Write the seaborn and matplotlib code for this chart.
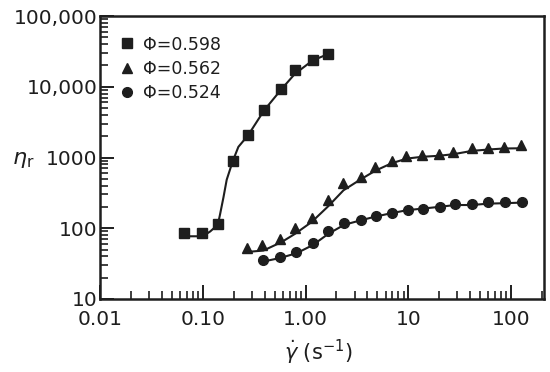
import numpy as np
import pandas as pd
import matplotlib
matplotlib.use("Agg")
import matplotlib.pyplot as plt
import seaborn as sns
from matplotlib.ticker import FixedLocator, LogLocator, NullFormatter

# ---- data ----
labels = ["\u03a6=0.598", "\u03a6=0.562", "\u03a6=0.524"]

# measured points
x598 = [0.066, 0.098, 0.14, 0.196, 0.276, 0.395, 0.58, 0.787, 1.17, 1.66]
y598 = [86, 86, 114, 893, 2060, 4630, 9160, 17400, 23500, 29000]

x562 = [0.272, 0.38, 0.566, 0.79, 1.15, 1.66, 2.31, 3.48, 4.69, 6.97,
        9.5, 13.7, 20, 27.5, 41.2, 59, 84.5, 126]
y562 = [52, 58, 71, 100, 141, 253, 434, 538, 726, 887,
        1057, 1100, 1112, 1202, 1383, 1370, 1415, 1490]

x524 = [0.389, 0.566, 0.805, 1.18, 1.65, 2.38, 3.48, 4.84, 7.0, 9.9,
        14.0, 20.3, 28.2, 41.9, 59, 86.5, 128.5]
y524 = [35.3, 38.8, 46.9, 62.3, 90, 120, 132, 147, 166, 179,
        188, 197, 220, 218, 234, 236, 236]

# fitted curves
fx598 = [0.061, 0.1, 0.118, 0.14, 0.147, 0.159, 0.171, 0.196, 0.222, 0.276,
         0.395, 0.58, 0.787, 1.17, 1.66]
fy598 = [77, 77, 90, 112, 155, 274, 486, 893, 1413, 2060,
         4630, 9160, 15200, 23500, 29000]

fx562 = [0.258, 0.389, 0.587, 0.792, 1.15, 1.67, 2.34, 3.40, 4.77, 6.92,
         9.7, 13.6, 19.7, 27.5, 41.6, 60.4, 84.5, 132]
fy562 = [46, 48.4, 64, 83.6, 123, 206, 344, 486, 650, 832,
         966, 1023, 1057, 1113, 1241, 1297, 1340, 1352]

fx524 = [0.375, 0.566, 0.822, 1.18, 1.67, 2.38, 3.48, 4.77, 6.67, 9.7,
         14.0, 20.3, 28.5, 41.6, 60.4, 87.6, 132]
fy524 = [33.5, 38, 44.5, 58, 83.6, 112, 130, 146, 162, 180,
         190, 201, 213, 213, 223, 226, 231]

xticks = [0.01, 0.1, 1, 10, 100]
xticklabels = ["0.01", "0.10", "1.00", "10", "100"]
yticks = [10, 100, 1000, 10000, 100000]
yticklabels = ["10", "100", "1000", "10,000", "100,000"]

# ---- styling ----
sns.set_style("ticks")
plt.rcParams["font.family"] = ["DejaVu Sans"]
plt.rcParams["mathtext.fontset"] = "dejavusans"
ink = "#1e1e1e"

fig = plt.figure(figsize=(5.5, 3.72), dpi=100)
ax = fig.add_axes([100 / 550, 1 - 299 / 372, 444 / 550, 283 / 372])

series = [(x598, y598, fx598, fy598, "s", labels[0], 6.5),
          (x562, y562, fx562, fy562, "^", labels[1], 7.5),
          (x524, y524, fx524, fy524, "o", labels[2], 7.0)]

for xs, ys, fxs, fys, mk, lab, ms in series:
    fit = pd.DataFrame({"x": fxs, "y": fys})
    sns.lineplot(data=fit, x="x", y="y", ax=ax, color=ink, lw=1.5,
                 sort=True, estimator=None)
    pts = pd.DataFrame({"x": xs, "y": ys})
    ax.plot(pts["x"], pts["y"], linestyle="none", marker=mk, ms=ms,
            color=ink, mec=ink, label=lab)

ax.set_xscale("log")
ax.set_yscale("log")
ax.set_xlim(0.01, 209)
ax.set_ylim(10, 100000)

ax.xaxis.set_major_locator(FixedLocator(xticks))
ax.set_xticklabels(xticklabels)
ax.yaxis.set_major_locator(FixedLocator(yticks))
ax.set_yticklabels(yticklabels)
ax.xaxis.set_minor_locator(LogLocator(base=10, subs=np.arange(2, 10)))
ax.yaxis.set_minor_locator(LogLocator(base=10, subs=np.arange(2, 10)))
ax.xaxis.set_minor_formatter(NullFormatter())
ax.yaxis.set_minor_formatter(NullFormatter())

ax.tick_params(which="both", direction="in", color=ink, labelcolor=ink,
               top=False, right=False)
ax.tick_params(which="major", length=10, width=1.4, labelsize=14.5)
ax.tick_params(which="minor", length=5.5, width=1.2)
ax.tick_params(axis="x", which="major", pad=8)
ax.tick_params(axis="y", which="major", pad=2)

for sp in ax.spines.values():
    sp.set_linewidth(1.8)
    sp.set_color(ink)

ax.set_xlabel("")
ax.set_ylabel("")

leg = ax.legend(loc="upper left", frameon=False, fontsize=12.5,
                handlelength=0.8, handletextpad=0.5, labelspacing=0.37,
                borderaxespad=0.0, borderpad=0.0,
                bbox_to_anchor=(0.045, 0.931))
for t in leg.get_texts():
    t.set_color(ink)

fig.text(12 / 550, 1 - 160 / 372, r"$\eta_{\mathrm{r}}$", fontsize=16,
         color=ink, va="center", ha="left")
fig.text(318 / 550, 1 - 352 / 372, r"$\dot{\gamma}$ (s$^{-1}$)", fontsize=15,
         color=ink, va="center", ha="center")

fig.savefig("out.png", dpi=100)
